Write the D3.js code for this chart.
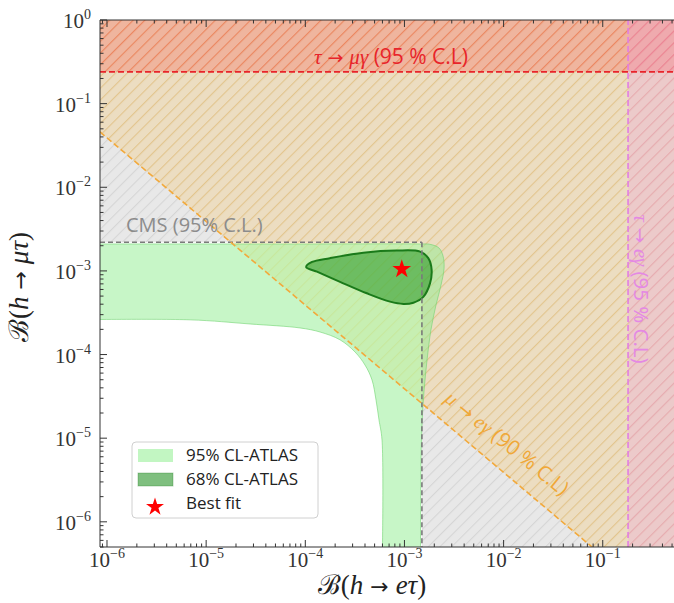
<!DOCTYPE html>
<html>
<head>
<meta charset="utf-8">
<script src="https://cdn.jsdelivr.net/npm/d3@7"></script>
<style>
  html, body { margin: 0; padding: 0; background: #fff; }
  svg { display: block; }
</style>
</head>
<body>
<svg id="chart" width="674" height="603"></svg>
<script>
// ---- data -------------------------------------------------------------
const xTicks = [1e-6, 1e-5, 1e-4, 1e-3, 1e-2, 1e-1];
const yTicks = [1e-6, 1e-5, 1e-4, 1e-3, 1e-2, 1e-1, 1];

// indirect limits
const limTauMuGamma = 0.24;     // tau -> mu gamma : B(h->mu tau) <
const limTauEGamma = 0.18;      // tau -> e gamma  : B(h->e tau) <
const limMuEGamma = 3.9e-8;     // mu -> e gamma   : B(h->e tau) * B(h->mu tau) <
const cmsLimitX = 1.5e-3;       // CMS direct limits
const cmsLimitY = 2.2e-3;

// ATLAS 95% CL band: outer edge (left -> right -> down), then inner edge (down -> up -> left)
const cl95OuterX = [4e-7, 8.85e-5, 1.43e-3, 1.81e-3, 2.23e-3, 2.45e-3, 2.51e-3, 2.34e-3, 2.08e-3, 1.85e-3, 1.69e-3, 1.58e-3, 1.51e-3, 1.47e-3, 1.45e-3];
const cl95OuterY = [2.1e-3, 2.1e-3, 2.1e-3, 2.08e-3, 1.88e-3, 1.51e-3, 1.08e-3, 6.8e-4, 3.9e-4, 1.97e-4, 8.6e-5, 3.8e-5, 1.65e-5, 5.5e-6, 2e-7];
const cl95InnerX = [5.94e-4, 5.94e-4, 5.54e-4, 5.17e-4, 4.71e-4, 4.0e-4, 3.18e-4, 2.24e-4, 1.41e-4, 8.85e-5, 2.77e-5, 6.9e-6, 4e-7];
const cl95InnerY = [2e-7, 9.5e-6, 1.65e-5, 2.86e-5, 4.97e-5, 7.5e-5, 1.07e-4, 1.5e-4, 1.86e-4, 2.08e-4, 2.32e-4, 2.6e-4, 2.6e-4];

// ATLAS 68% CL contour
const cl68X = [1.02e-4, 1.17e-4, 1.77e-4, 3.85e-4, 8.36e-4, 1.44e-3, 1.74e-3, 1.88e-3, 1.81e-3, 1.55e-3, 1.23e-3, 9.75e-4, 7.16e-4, 4.17e-4, 2.24e-4, 1.31e-4];
const cl68Y = [1.11e-3, 1.28e-3, 1.42e-3, 1.65e-3, 1.75e-3, 1.70e-3, 1.42e-3, 1.03e-3, 7.1e-4, 4.9e-4, 4.17e-4, 4.03e-4, 4.29e-4, 5.4e-4, 7.4e-4, 9.8e-4];

const bestFit = [9.4e-4, 1.05e-3];

const legendLabels = ["95% CL-ATLAS", "68% CL-ATLAS", "Best fit"];

// ---- layout -----------------------------------------------------------
const svg = d3.select("#chart");
const L = 100, T = 20, B = 547, R = 682;
const x = d3.scaleLog().domain([8.5e-7, 0.63]).range([L, R]);
const y = d3.scaleLog().domain([5e-7, 1]).range([B, T]);
const [x0, x1] = x.domain();
const [y0, y1] = y.domain();

const SERIF = "'Liberation Serif', 'DejaVu Serif', serif";
const SANS = "'Open Sans', 'Noto Sans', sans-serif";

const defs = svg.append("defs");
defs.append("clipPath").attr("id", "plotClip")
  .append("rect").attr("x", L).attr("y", T).attr("width", R - L).attr("height", B - T);

// hatch patterns ("//")
function hatch(id, color, opacity) {
  const p = defs.append("pattern").attr("id", id)
    .attr("patternUnits", "userSpaceOnUse")
    .attr("width", 8.3).attr("height", 8.3)
    .attr("patternTransform", "rotate(45)");
  p.append("line").attr("x1", 0).attr("y1", 0).attr("x2", 0).attr("y2", 8.3)
    .attr("stroke", color).attr("stroke-opacity", opacity).attr("stroke-width", 2.2);
}
hatch("hGray", "#808080", 0.18);
hatch("hOrange", "#ffa500", 0.2);
hatch("hRed", "#ff0000", 0.16);
hatch("hViolet", "#ee82ee", 0.22);

const plot = svg.append("g").attr("clip-path", "url(#plotClip)");
const poly = pts => "M" + pts.map(p => [x(p[0]), y(p[1])].join(",")).join("L") + "Z";

// excluded regions
const regions = [
  { // outside CMS box
    pts: [[x0, y1], [x1, y1], [x1, y0], [cmsLimitX, y0], [cmsLimitX, cmsLimitY], [x0, cmsLimitY]],
    color: "#808080", alpha: 0.18, pat: "hGray" },
  { // mu -> e gamma
    pts: [[x0, limMuEGamma / x0], [limMuEGamma / y0, y0], [x1, y0], [x1, y1], [x0, y1]],
    color: "#ffa500", alpha: 0.17, pat: "hOrange" },
  { // tau -> mu gamma
    pts: [[x0, limTauMuGamma], [x1, limTauMuGamma], [x1, y1], [x0, y1]],
    color: "#ff0000", alpha: 0.18, pat: "hRed" },
  { // tau -> e gamma
    pts: [[limTauEGamma, y0], [x1, y0], [x1, y1], [limTauEGamma, y1]],
    color: "#ee82ee", alpha: 0.2, pat: "hViolet" }
];
regions.forEach(r => {
  plot.append("path").attr("d", poly(r.pts)).attr("fill", r.color).attr("fill-opacity", r.alpha);
  plot.append("path").attr("d", poly(r.pts)).attr("fill", `url(#${r.pat})`);
});

// ATLAS contours
const smooth = d3.line().x(d => x(d[0])).y(d => y(d[1])).curve(d3.curveCatmullRom.alpha(0.5));
const outer = cl95OuterX.map((v, i) => [v, cl95OuterY[i]]);
const inner = cl95InnerX.map((v, i) => [v, cl95InnerY[i]]);
const band = smooth(outer) + "L" + smooth(inner).slice(1) + "Z";
plot.append("path").attr("d", band)
  .attr("fill", "#90ee90").attr("fill-opacity", 0.5)
  .attr("stroke", "#6fd46f").attr("stroke-opacity", 0.6).attr("stroke-width", 1);

const c68 = cl68X.map((v, i) => [v, cl68Y[i]]);
const closed = d3.line().x(d => x(d[0])).y(d => y(d[1])).curve(d3.curveCatmullRomClosed.alpha(0.5));
plot.append("path").attr("d", closed(c68))
  .attr("fill", "#008000").attr("fill-opacity", 0.45)
  .attr("stroke", "#1a7a1a").attr("stroke-width", 2);

// limit lines
const dashed = (x1_, y1_, x2_, y2_, color, w, dash) =>
  plot.append("line").attr("x1", x(x1_)).attr("y1", y(y1_)).attr("x2", x(x2_)).attr("y2", y(y2_))
    .attr("stroke", color).attr("stroke-width", w).attr("stroke-dasharray", dash);

dashed(x0, cmsLimitY, cmsLimitX, cmsLimitY, "#7a7a7a", 1.6, "5,3");
dashed(cmsLimitX, cmsLimitY, cmsLimitX, y0, "#7a7a7a", 1.6, "5,3");
dashed(x0, limMuEGamma / x0, limMuEGamma / y0, y0, "#f2a93b", 1.6, "6,3");
dashed(x0, limTauMuGamma, x1, limTauMuGamma, "#e8242a", 1.6, "6,3");
dashed(limTauEGamma, y0, limTauEGamma, y1, "#e27ee2", 1.6, "6,3");

// best fit
plot.append("path")
  .attr("d", d3.symbol(d3.symbolStar, 110)())
  .attr("transform", `translate(${x(bestFit[0])},${y(bestFit[1])})`)
  .attr("fill", "#ff0000");

// annotations
function mathLabel(g, parts, color, size) {
  const t = g.append("text").attr("fill", color).attr("font-size", size);
  parts.forEach(([s, kind]) => {
    const ts = t.append("tspan").text(s);
    if (kind === "m") ts.attr("font-family", SERIF).attr("font-style", "italic");
    else if (kind === "a") ts.attr("font-family", "'DejaVu Sans', sans-serif").attr("font-size", size * 0.9);
    else ts.attr("font-family", SANS);
  });
  return t;
}
mathLabel(svg.append("g").attr("transform", "translate(391,64)"),
  [["τ", "m"], [" → ", "a"], ["μγ", "m"], [" (95 % C.L)", "s"]], "#e8242a", 21)
  .attr("text-anchor", "middle");

svg.append("text").attr("x", 126).attr("y", 232)
  .attr("font-family", SANS).attr("font-size", 20).attr("fill", "#8c8c8c")
  .text("CMS (95% C.L.)");

mathLabel(svg.append("g").attr("transform", "translate(507,443) rotate(39)"),
  [["μ", "m"], [" → ", "a"], ["eγ", "m"], [" (90 % C.L)", "s"]], "#f0a838", 20.5)
  .attr("text-anchor", "middle").attr("dy", 7);

mathLabel(svg.append("g").attr("transform", "translate(641,289) rotate(90)"),
  [["τ", "m"], [" → ", "a"], ["eγ", "m"], [" (95 % C.L)", "s"]], "#e488e4", 20.5)
  .attr("text-anchor", "middle").attr("dy", 7);

// ---- axes -------------------------------------------------------------
const ax = svg.append("g").attr("stroke", "#333").attr("stroke-width", 1);
ax.append("line").attr("x1", L).attr("x2", R).attr("y1", T).attr("y2", T);
ax.append("line").attr("x1", L).attr("x2", R).attr("y1", B).attr("y2", B);
ax.append("line").attr("x1", L).attr("x2", L).attr("y1", T).attr("y2", B);

const minor = (lo, hi) => {
  const out = [];
  for (let e = Math.floor(Math.log10(lo)); e <= Math.ceil(Math.log10(hi)); e++)
    for (let m = 1; m < 10; m++) {
      const v = m * Math.pow(10, e);
      if (v >= lo && v <= hi) out.push({ v, major: m === 1 });
    }
  return out;
};
minor(x0, x1).forEach(({ v, major }) => {
  const px = x(v), len = major ? 7 : 3.5;
  ax.append("line").attr("x1", px).attr("x2", px).attr("y1", B).attr("y2", B - len);
  ax.append("line").attr("x1", px).attr("x2", px).attr("y1", T).attr("y2", T + len);
});
minor(y0, y1).forEach(({ v, major }) => {
  const py = y(v), len = major ? 7 : 3.5;
  ax.append("line").attr("x1", L).attr("x2", L + len).attr("y1", py).attr("y2", py);
});

function powerLabel(sel, v) {
  const e = Math.round(Math.log10(v));
  sel.append("tspan").text("10");
  sel.append("tspan").attr("font-size", 14).attr("dy", -9).text(e < 0 ? "−" + (-e) : String(e));
}
xTicks.forEach(v => {
  const t = svg.append("text").attr("x", x(v)).attr("y", 567)
    .attr("text-anchor", "middle").attr("font-family", SERIF).attr("font-size", 21).attr("fill", "#333");
  powerLabel(t, v);
});
yTicks.forEach(v => {
  const t = svg.append("text").attr("x", 91).attr("y", y(v) + 8)
    .attr("text-anchor", "end").attr("font-family", SERIF).attr("font-size", 21).attr("fill", "#333");
  powerLabel(t, v);
});

// axis titles
function axisTitle(t, sub) {
  t.append("tspan").attr("font-family", "'DejaVu Serif', serif").text("ℬ");
  t.append("tspan").text("(");
  t.append("tspan").attr("font-style", "italic").text("h");
  t.append("tspan").attr("font-family", "'DejaVu Sans', sans-serif").attr("font-size", 22).text(" → ");
  t.append("tspan").attr("font-style", "italic").text(sub);
  t.append("tspan").text(")");
}
axisTitle(svg.append("text").attr("x", 372).attr("y", 594).attr("text-anchor", "middle")
  .attr("font-family", SERIF).attr("font-size", 27).attr("fill", "#222"), "eτ");
axisTitle(svg.append("text").attr("transform", "translate(28,287) rotate(-90)").attr("text-anchor", "middle")
  .attr("font-family", SERIF).attr("font-size", 27).attr("fill", "#222"), "μτ");

// ---- legend -----------------------------------------------------------
const lg = svg.append("g");
lg.append("rect").attr("x", 132).attr("y", 442).attr("width", 186).attr("height", 76).attr("rx", 4)
  .attr("fill", "#fff").attr("fill-opacity", 0.85).attr("stroke", "#d0d0d0");
lg.append("rect").attr("x", 138).attr("y", 449).attr("width", 35).attr("height", 13)
  .attr("fill", "#90ee90").attr("fill-opacity", 0.55);
lg.append("rect").attr("x", 138).attr("y", 473).attr("width", 35).attr("height", 13)
  .attr("fill", "#008000").attr("fill-opacity", 0.5).attr("stroke", "#1a7a1a").attr("stroke-opacity", 0.3);
lg.append("path").attr("d", d3.symbol(d3.symbolStar, 100)())
  .attr("transform", "translate(155,507)").attr("fill", "#ff0000");
legendLabels.forEach((s, i) => {
  lg.append("text").attr("x", 186).attr("y", 461 + i * 24)
    .attr("font-family", SANS).attr("font-size", 17).attr("fill", "#222").text(s);
});
</script>
</body>
</html>
